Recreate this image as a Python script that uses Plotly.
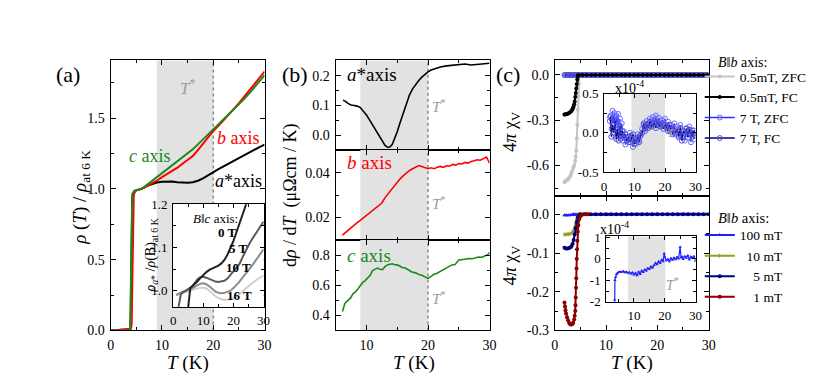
import plotly.graph_objects as go

W, H = 830, 391
SERIF = "Liberation Serif"
BAND = "#e2e2e2"
GREEN = "#1a8a1a"

# ---------------- (a) normalised resistivity ----------------
t_rho = [0, 1, 2, 3, 3.6, 3.8, 3.9, 4.0, 4.1, 4.2, 4.3, 4.4, 4.5, 4.6, 4.8, 5.0, 5.4, 6,
         7, 8, 9, 10, 11, 12, 13, 14, 15, 16, 17, 18, 19, 20, 21, 22, 23, 24, 25, 26, 27, 28, 29, 30]
rho_a = [0, 0, 0, 0, 0, 0.005, 0.1, 0.45, 0.8, 0.93, 0.965, 0.975, 0.98, 0.984, 0.988, 0.99, 0.995, 1.0,
         1.02, 1.035, 1.045, 1.05, 1.053, 1.052, 1.047, 1.043, 1.043, 1.048, 1.058, 1.075, 1.098, 1.12,
         1.14, 1.16, 1.18, 1.2, 1.22, 1.24, 1.26, 1.278, 1.296, 1.313]
rho_b = [0, 0, 0.006, 0.009, 0.01, 0.01, 0.012, 0.02, 0.05, 0.3, 0.65, 0.88, 0.95, 0.97, 0.985, 0.99, 0.995, 1.0,
         1.018, 1.036, 1.058, 1.083, 1.105, 1.127, 1.15, 1.178, 1.205, 1.233, 1.275, 1.32, 1.37, 1.41,
         1.447, 1.485, 1.525, 1.565, 1.607, 1.65, 1.695, 1.74, 1.785, 1.83]
rho_c = [0, 0, 0, 0, 0.002, 0.01, 0.25, 0.6, 0.88, 0.95, 0.97, 0.978, 0.983, 0.986, 0.99, 0.992, 0.996, 1.0,
         1.027, 1.055, 1.08, 1.108, 1.137, 1.165, 1.195, 1.222, 1.25, 1.28, 1.315, 1.35, 1.385, 1.42,
         1.455, 1.49, 1.525, 1.56, 1.597, 1.635, 1.675, 1.717, 1.76, 1.805]

# inset (a): rho_a* in field B || c
t_0t = [4.8, 5.0, 5.2, 5.4, 5.7, 6, 7, 8, 9, 10, 11, 12, 13, 14, 15, 16, 17, 18, 19, 20, 21, 22, 23, 24, 24.7]
r_0t = [0.95, 0.965, 0.985, 1.0, 1.006, 1.008, 1.014, 1.021, 1.029, 1.037, 1.043, 1.048, 1.051, 1.054, 1.058,
        1.063, 1.071, 1.083, 1.098, 1.115, 1.135, 1.157, 1.178, 1.197, 1.21]
t_5t = [1.5, 1.8, 2.1, 2.5, 3, 4, 5, 6, 7, 8, 9, 10, 11, 12, 13, 14, 15, 16, 17, 18, 19, 20, 21, 22, 23, 24,
        25, 26, 27, 28, 29, 30]
r_5t = [0.95, 0.965, 0.98, 0.99, 0.995, 0.999, 1.003, 1.008, 1.016, 1.026, 1.031, 1.032, 1.03, 1.027, 1.023,
        1.021, 1.02, 1.021, 1.023, 1.028, 1.036, 1.044, 1.052, 1.062, 1.077, 1.093, 1.105, 1.117, 1.128,
        1.14, 1.15, 1.16]
t_hi = [1, 2, 3, 4, 5, 6, 7, 8, 9, 10, 11, 12, 13, 14, 15, 16, 17, 18, 19, 20, 21, 22, 23, 24, 25, 26, 27,
        28, 29, 30]
r_10t = [0.99, 0.994, 0.997, 0.999, 1.001, 1.004, 1.008, 1.013, 1.016, 1.017, 1.015, 1.01, 1.004, 0.998,
         0.995, 0.994, 0.995, 0.997, 1.0, 1.006, 1.013, 1.021, 1.03, 1.038, 1.047, 1.056, 1.066, 1.076,
         1.086, 1.096]
r_16t = [0.99, 0.992, 0.994, 0.996, 0.998, 1.0, 1.003, 1.005, 1.007, 1.007, 1.005, 1.0, 0.993, 0.987, 0.983,
         0.98, 0.979, 0.979, 0.98, 0.983, 0.987, 0.992, 0.998, 1.003, 1.01, 1.016, 1.022, 1.027, 1.031, 1.035]

# ---------------- (b) d rho / dT ----------------
t_da = [6.2, 6.6, 7.0, 7.5, 8.0, 8.5, 9.0, 9.5, 10.0, 10.5, 11.0, 11.5, 12.0, 12.5, 13.0, 13.4, 13.8, 14.2,
        14.6, 15.0, 15.5, 16.0, 16.5, 17.0, 17.5, 18.0, 18.5, 19.0, 19.5, 20.0, 20.5, 21, 22, 23, 24, 25,
        26, 27, 28, 29, 30]
d_a = [0.118, 0.114, 0.107, 0.102, 0.1, 0.098, 0.093, 0.082, 0.068, 0.052, 0.035, 0.017, 0.0, -0.018, -0.033,
       -0.04, -0.039, -0.03, -0.012, 0.012, 0.045, 0.078, 0.108, 0.136, 0.156, 0.171, 0.184, 0.195, 0.205,
       0.213, 0.219, 0.223, 0.229, 0.233, 0.235, 0.237, 0.239, 0.236, 0.238, 0.241, 0.242]
t_db = [6.1, 6.5, 7, 7.5, 8, 8.5, 9, 9.5, 10, 10.5, 11, 11.5, 12, 12.5, 13, 13.5, 14, 14.5, 15, 15.5, 16,
        16.5, 17, 17.5, 18, 18.5, 19, 19.5, 20, 20.5, 21, 21.5, 22, 22.5, 23, 23.5, 24, 24.5, 25, 25.5, 26,
        26.5, 27, 27.5, 28, 28.5, 29, 29.5, 30]
d_b = [0.0122, 0.0132, 0.0143, 0.0155, 0.0167, 0.0178, 0.0188, 0.0199, 0.021, 0.0218, 0.0229, 0.024, 0.0252,
       0.0265, 0.0288, 0.0305, 0.0322, 0.0341, 0.036, 0.0374, 0.0387, 0.04, 0.041, 0.0418, 0.0426, 0.0432,
       0.0428, 0.0424, 0.0418, 0.0422, 0.0418, 0.0424, 0.0428, 0.0424, 0.0431, 0.0429, 0.0437, 0.0434,
       0.0441, 0.0439, 0.0446, 0.0443, 0.045, 0.0453, 0.0458, 0.0456, 0.0463, 0.047, 0.0443]
t_dc = [6.1, 6.5, 7.0, 7.4, 7.8, 8.2, 8.6, 9.0, 9.4, 9.8, 10.2, 10.6, 11.0, 11.4, 11.8, 12.2, 12.6, 13.0,
        13.4, 13.8, 14.2, 14.6, 15.0, 15.4, 15.8, 16.3, 16.8, 17.4, 18.0, 18.5, 19.0, 19.5, 20.0, 20.5,
        20.9, 21.4, 21.8, 22.3, 22.8, 23.3, 23.9, 24.4, 25.0, 25.5, 26.0, 26.6, 27.2, 27.7, 28.2, 28.8,
        29.3, 29.7, 30.0]
d_c = [0.426, 0.48, 0.5, 0.515, 0.544, 0.556, 0.576, 0.6, 0.62, 0.632, 0.652, 0.668, 0.699, 0.71, 0.716,
       0.708, 0.705, 0.725, 0.737, 0.742, 0.744, 0.738, 0.737, 0.73, 0.72, 0.716, 0.705, 0.69, 0.684, 0.673,
       0.668, 0.656, 0.647, 0.66, 0.673, 0.68, 0.69, 0.705, 0.712, 0.724, 0.737, 0.74, 0.77, 0.772, 0.776,
       0.78, 0.778, 0.786, 0.79, 0.788, 0.797, 0.805, 0.82]

# ---------------- (c) susceptibility, upper: 0.5 mT and 7 T ----------------
t_zfc05 = [1.9, 2.0, 2.2, 2.4, 2.6, 2.8, 3.0, 3.2, 3.4, 3.6, 3.8, 4.0, 4.1, 4.2, 4.3, 4.4, 4.5, 4.6, 4.7,
           4.8, 5.0, 5.2]
chi_zfc05 = [-0.71, -0.705, -0.7, -0.695, -0.69, -0.68, -0.67, -0.655, -0.635, -0.615, -0.6, -0.57, -0.54,
             -0.5, -0.42, -0.33, -0.23, -0.14, -0.06, -0.01, 0, 0]
t_fc05 = [1.9, 2.0, 2.2, 2.4, 2.6, 2.8, 3.0, 3.2, 3.4, 3.5, 3.6, 3.7, 3.8, 3.9, 4.0, 4.1, 4.2, 4.3, 4.4,
          4.5, 4.6, 5.4, 6.2, 7.1, 7.9, 8.8, 9.6, 10.4, 11.3, 12.1, 13.0, 13.8, 14.6, 15.5, 16.3, 17.2, 18.0,
          18.8, 19.7, 20.5, 21.4, 22.2, 23.0, 23.9, 24.7, 25.6, 26.4, 27.2, 28.1, 28.9, 29.8]
chi_fc05 = [-0.262, -0.262, -0.26, -0.258, -0.255, -0.252, -0.247, -0.24, -0.23, -0.223, -0.215, -0.205,
            -0.194, -0.175, -0.145, -0.12, -0.09, -0.06, -0.03, -0.008, 0, 0, 0, 0, 0, 0, 0, 0, 0, 0, 0, 0, 0,
            0, 0, 0, 0, 0, 0, 0, 0, 0, 0, 0, 0, 0, 0, 0, 0, 0, 0]
# 7 T data in units of 1e-4
t_zfc7 = [1.9, 2.2, 2.5, 2.8, 3.1, 3.4, 3.7, 4.0, 4.3, 4.6, 4.9, 5.2, 5.5, 5.8, 6.1, 6.5, 7.0, 7.5, 8.0, 8.5,
          9.0, 9.5, 10.0, 10.5, 11.0, 11.5, 12.0, 12.5, 13.0, 13.5, 14.0, 14.5, 15.0, 15.5, 16.0, 16.5, 17.0,
          17.5, 18.0, 18.5, 19.0, 19.5, 20.0, 20.5, 21.0, 21.5, 22.0, 22.5, 23.0, 23.5, 24.0, 24.5, 25.0,
          25.5, 26.0, 26.5, 27.0, 27.5, 28.0, 28.5, 29.0, 29.5]
chi_zfc7 = [0.15, 0.22, 0.05, 0.28, 0.12, 0.25, -0.05, 0.22, 0.1, 0.24, 0.02, 0.18, -0.08, 0.12, -0.1, 0.02,
            -0.15, -0.06, -0.12, 0.0, -0.04, -0.18, -0.08, -0.14, -0.02, -0.1, -0.04, 0.05, 0.1, 0.02, 0.15,
            0.08, 0.18, 0.1, 0.2, 0.12, 0.22, 0.1, 0.19, 0.08, 0.16, 0.12, 0.18, 0.06, 0.14, 0.03, 0.1, 0.0,
            0.12, -0.02, 0.08, -0.06, 0.1, -0.05, 0.02, -0.1, 0.06, -0.02, 0.08, -0.12, 0.03, -0.08]
t_fc7 = [2.0, 2.4, 2.8, 3.2, 3.6, 4.0, 4.4, 4.8, 5.2, 5.6, 6.0, 6.5, 7.0, 7.5, 8.0, 8.5, 9.0, 9.5, 10.0,
         10.5, 11.0, 11.5, 12.0, 12.5, 13.0, 13.5, 14.0, 14.5, 15.0, 15.5, 16.0, 16.5, 17.0, 17.5, 18.0,
         18.5, 19.0, 19.5, 20.0, 20.5, 21.0, 21.5, 22.0, 22.5, 23.0, 23.5, 24.0, 24.5, 25.0, 25.5, 26.0,
         26.5, 27.0, 27.5, 28.0, 28.5, 29.0, 29.5, 30.0]
chi_fc7 = [0.2, -0.05, 0.1, 0.0, 0.15, -0.08, 0.05, -0.1, 0.08, -0.03, 0.02, -0.06, -0.02, -0.1, -0.05,
           -0.12, -0.08, -0.02, -0.14, -0.1, -0.06, -0.12, -0.03, 0.0, 0.12, 0.05, 0.1, 0.06, 0.14, 0.08, 0.1,
           0.12, 0.06, 0.14, 0.1, 0.08, 0.12, 0.05, 0.1, 0.08, 0.02, 0.1, 0.04, -0.02, 0.06, 0.0, 0.04, -0.04,
           0.06, -0.1, 0.02, 0.0, 0.05, -0.06, 0.04, -0.02, -0.05, 0.03, -0.04]

# ---------------- (c) susceptibility, lower: low fields ----------------
# 100 mT in units of 1e-4
t_100 = [1.9, 2.3, 2.7, 3.1, 3.4, 3.6, 3.7, 3.8, 4.0, 4.3, 4.6, 5.0, 5.5, 6.0, 6.5, 7.0, 7.5, 8.0, 8.5, 9.0,
         9.5, 10.0, 10.5, 11.0, 11.5, 12.0, 12.5, 13.0, 13.5, 14.0, 14.5, 15.0, 15.5, 16.0, 16.5, 17.0, 17.5,
         18.0, 18.5, 19.0, 19.5, 19.8, 20.0, 20.5, 21.0, 21.5, 22.0, 22.5, 23.0, 23.5, 24.0, 24.5, 25.0,
         25.3, 25.6, 26.0, 26.5, 27.0, 27.5, 28.0, 28.5, 29.0, 29.5, 30.0]
chi_100 = [-25, -24, -22, -16, -8, -3, -1.9, -1.0, -0.85, -0.72, -0.66, -0.62, -0.6, -0.62, -0.58, -0.64,
           -0.6, -0.66, -0.62, -0.7, -0.64, -0.74, -0.66, -0.78, -0.6, -0.72, -0.55, -0.62, -0.5, -0.56,
           -0.44, -0.48, -0.36, -0.42, -0.3, -0.2, -0.26, -0.12, -0.2, -0.05, -0.12, 0.25, 0.1, -0.08, -0.02,
           -0.12, 0.02, -0.06, 0.05, -0.03, 0.08, 0.0, 0.55, 0.05, 0.1, -0.02, 0.12, 0.04, 0.15, -0.05, 0.1,
           0.02, 0.12, -0.1]
t_10 = [1.9, 2.2, 2.5, 2.8, 3.1, 3.4, 3.6, 3.8, 4.0, 4.2, 4.4, 4.6, 4.8, 5.0]
chi_10 = [-0.052, -0.052, -0.051, -0.051, -0.05, -0.048, -0.044, -0.036, -0.026, -0.015, -0.007, -0.002, 0, 0]
t_5 = [1.9, 2.2, 2.5, 2.8, 3.1, 3.3, 3.5, 3.7, 3.9, 4.1, 4.3, 4.5, 4.7, 5.0, 6, 7, 8, 9, 10, 11, 12, 13, 14,
       15, 16, 17, 18, 19, 20, 21, 22, 23, 24, 25, 26, 27, 28, 29, 30]
chi_5 = [-0.086, -0.088, -0.088, -0.087, -0.085, -0.082, -0.076, -0.066, -0.052, -0.036, -0.02, -0.008, -0.002,
         0, 0, 0, 0, 0, 0, 0, 0, 0, 0, 0, 0, 0, 0, 0, 0, 0, 0, 0, 0, 0, 0, 0, 0, 0, 0]
t_1 = [1.9, 2.0, 2.1, 2.2, 2.4, 2.6, 2.8, 3.0, 3.2, 3.4, 3.6, 3.8, 3.9, 4.0, 4.05, 4.1, 4.15, 4.2, 4.25, 4.3,
       4.35, 4.4, 4.5, 4.6, 4.8, 5.0, 5.3, 5.6, 6.0, 6.5]
chi_1 = [-0.228, -0.238, -0.248, -0.256, -0.266, -0.274, -0.28, -0.284, -0.285, -0.284, -0.28, -0.272, -0.262,
         -0.25, -0.235, -0.215, -0.19, -0.165, -0.14, -0.115, -0.09, -0.068, -0.045, -0.028, -0.012, -0.005,
         -0.001, 0, 0, 0]

for a, b in [(t_rho, rho_a), (t_rho, rho_b), (t_rho, rho_c), (t_0t, r_0t), (t_5t, r_5t), (t_hi, r_10t),
             (t_hi, r_16t), (t_da, d_a), (t_db, d_b), (t_dc, d_c), (t_zfc05, chi_zfc05), (t_fc05, chi_fc05),
             (t_zfc7, chi_zfc7), (t_fc7, chi_fc7), (t_100, chi_100), (t_10, chi_10), (t_5, chi_5), (t_1, chi_1)]:
    assert len(a) == len(b), (len(a), len(b))


def px(x):
    return x / W


def py(y):
    return 1 - y / H


def line(x, y, xa, ya, color, width=2, **kw):
    return go.Scatter(x=x, y=y, xaxis=xa, yaxis=ya, mode="lines", showlegend=False,
                      line=dict(color=color, width=width), **kw)


fig = go.Figure()

# (a)
fig.add_trace(line(t_rho, rho_a, "x", "y", "black"))
fig.add_trace(line(t_rho, rho_b, "x", "y", "red"))
fig.add_trace(line(t_rho, rho_c, "x", "y", GREEN))
fig.add_trace(line(t_hi, r_16t, "x2", "y2", "#d0d0d0"))
fig.add_trace(line(t_hi, r_10t, "x2", "y2", "#8c8c8c"))
fig.add_trace(line(t_5t, r_5t, "x2", "y2", "#5a5a5a"))
fig.add_trace(line(t_0t, r_0t, "x2", "y2", "#222222"))

# (b)
fig.add_trace(line(t_da, d_a, "x3", "y3", "black", 1.6))
fig.add_trace(line(t_db, d_b, "x4", "y4", "red", 1.6))
fig.add_trace(line(t_dc, d_c, "x5", "y5", GREEN, 1.6))

# (c) upper
e4 = 1e-4
fig.add_trace(go.Scatter(x=t_zfc05, y=chi_zfc05, xaxis="x6", yaxis="y6", mode="lines+markers",
                         name="0.5mT, ZFC", legend="legend", legendrank=1,
                         line=dict(color="#c4c4c4", width=2), marker=dict(size=4, color="#c4c4c4")))
fig.add_trace(go.Scatter(x=t_zfc7, y=[v * e4 for v in chi_zfc7], xaxis="x6", yaxis="y6", mode="lines+markers",
                         name="7 T, ZFC", legend="legend", legendrank=3,
                         line=dict(color="#3030ff", width=1.5),
                         marker=dict(size=5, symbol="circle-open", color="#6a6aff")))
fig.add_trace(go.Scatter(x=t_fc7, y=[v * e4 for v in chi_fc7], xaxis="x6", yaxis="y6", mode="lines+markers",
                         name="7 T, FC", legend="legend", legendrank=4,
                         line=dict(color="#000080", width=1.5),
                         marker=dict(size=5, symbol="circle-open", color="#5050d0")))
fig.add_trace(go.Scatter(x=t_fc05, y=chi_fc05, xaxis="x6", yaxis="y6", mode="lines+markers",
                         name="0.5mT, FC", legend="legend", legendrank=2,
                         line=dict(color="black", width=2), marker=dict(size=4, color="black")))
# inset upper
fig.add_trace(go.Scatter(x=t_zfc7, y=chi_zfc7, xaxis="x8", yaxis="y8", mode="lines+markers", showlegend=False,
                         line=dict(color="#3030ff", width=1.2),
                         marker=dict(size=5, symbol="circle-open", color="#6a6aff")))
fig.add_trace(go.Scatter(x=t_fc7, y=chi_fc7, xaxis="x8", yaxis="y8", mode="lines+markers", showlegend=False,
                         line=dict(color="#000080", width=1.2),
                         marker=dict(size=5, symbol="circle-open", color="#5050d0")))

# (c) lower
fig.add_trace(go.Scatter(x=t_100, y=[v * e4 for v in chi_100], xaxis="x7", yaxis="y7", mode="lines+markers",
                         name="100 mT", legend="legend2", legendrank=1,
                         line=dict(color="#2020ff", width=2), marker=dict(size=4, symbol="triangle-up", color="#2020ff")))
fig.add_trace(go.Scatter(x=t_10, y=chi_10, xaxis="x7", yaxis="y7", mode="lines+markers",
                         name="\u200710 mT", legend="legend2", legendrank=2,
                         line=dict(color="#9a9a20", width=2), marker=dict(size=4, symbol="triangle-right", color="#9a9a20")))
fig.add_trace(go.Scatter(x=t_5, y=chi_5, xaxis="x7", yaxis="y7", mode="lines+markers",
                         name="\u2007\u20075 mT", legend="legend2", legendrank=3,
                         line=dict(color="#000080", width=2), marker=dict(size=4, color="#000080")))
fig.add_trace(go.Scatter(x=t_1, y=chi_1, xaxis="x7", yaxis="y7", mode="lines+markers",
                         name="\u2007\u20071 mT", legend="legend2", legendrank=4,
                         line=dict(color="#8b0000", width=2), marker=dict(size=4, color="#8b0000")))
fig.add_trace(go.Scatter(x=t_100, y=chi_100, xaxis="x9", yaxis="y9", mode="lines+markers", showlegend=False,
                         line=dict(color="#2020ff", width=1.2), marker=dict(size=3, symbol="triangle-up", color="#2020ff")))


def axis(domain, rng, anchor, labels=True, size=14, dtick=None, minor=None, tl=5, **kw):
    d = dict(domain=domain, range=rng, anchor=anchor, showline=True, linecolor="black", linewidth=1,
             mirror="allticks", ticks="inside", ticklen=tl, tickcolor="black", showgrid=False,
             zeroline=False, showticklabels=labels, dtick=dtick, ticklabelstandoff=2,
             tickfont=dict(family=SERIF, size=size, color="black"))
    if minor:
        d["minor"] = dict(ticks="inside", ticklen=3, dtick=minor, tickcolor="black", showgrid=False)
    d.update(kw)
    return d


def neg(vals, fmt):
    return dict(tickmode="array", tickvals=vals, ticktext=[fmt.format(v).replace("\u2212", "-") for v in vals])


xa = [px(100), px(256)]
xb = [px(328), px(484)]
xc = [px(550), px(706)]
full = [py(328), py(47)]
legend_style = dict(xanchor="left", yanchor="top", bgcolor="rgba(0,0,0,0)",
                    font=dict(family=SERIF, size=13.5, color="black"), itemwidth=30, tracegroupgap=0)

fig.update_layout(
    width=W, height=H, margin=dict(l=0, r=0, t=0, b=0),
    paper_bgcolor="white", plot_bgcolor="white",
    font=dict(family=SERIF, color="black"),
    xaxis=axis(xa, [0, 30], "y", dtick=10, minor=5),
    yaxis=axis(full, [0, 1.91], "x", dtick=0.5, minor=0.25, tickformat=".1f"),
    xaxis2=axis([px(163.3), px(255)], [0, 30], "y2", size=13, dtick=10, minor=5, tl=4),
    yaxis2=axis([py(303.3), py(196.7)], [0.963, 1.2], "x2", size=13, dtick=0.1, minor=0.05, tl=4,
                tickformat=".1f"),
    xaxis3=axis(xb, [5, 30], "y3", labels=False, dtick=10, minor=5),
    yaxis3=axis([py(140), py(47)], [-0.048, 0.252], "x3", dtick=0.1, minor=0.05, tickformat=".1f"),
    xaxis4=axis(xb, [5, 30], "y4", labels=False, dtick=10, minor=5),
    yaxis4=axis([py(234), py(140)], [0.01, 0.0503], "x4", dtick=0.02, minor=0.01, tickformat=".2f"),
    xaxis5=axis(xb, [5, 30], "y5", dtick=10, minor=5),
    yaxis5=axis([py(328), py(234)], [0.3, 0.903], "x5", dtick=0.2, minor=0.1, tickformat=".1f"),
    xaxis6=axis(xc, [0, 30], "y6", labels=False, dtick=10, minor=5),
    yaxis6=axis([py(188), py(47)], [-0.80, 0.098], "x6", minor=0.15, **neg([-0.6, -0.3, 0.0], "{:.1f}")),
    xaxis7=axis(xc, [0, 30], "y7", dtick=10, minor=5),
    yaxis7=axis([py(328), py(188)], [-0.3, 0.048], "x7", minor=0.05,
                **neg([-0.3, -0.2, -0.1, 0.0], "{:.1f}")),
    xaxis8=axis([px(600), px(692.7)], [0, 30], "y8", size=13, dtick=10, minor=5, tl=4),
    yaxis8=axis([py(163.3), py(81.7)], [-0.5, 0.5], "x8", size=13, minor=0.25, tl=4,
                **neg([-0.5, 0.0, 0.5], "{:.1f}")),
    xaxis9=axis([px(602.3), px(692.7)], [1, 30], "y9", size=13, dtick=10, minor=5, tl=4),
    yaxis9=axis([py(298.3), py(230)], [-2, 1.05], "x9", size=13, minor=0.5, tl=4,
                **neg([-2, -1, 0, 1], "{:d}")),
    legend=dict(x=px(697), y=py(48), **legend_style),
    legend2=dict(x=px(697), y=py(213), **legend_style),
)

shapes = []
# shaded T* regions and dotted T* lines
shapes.append(dict(type="rect", xref="x", yref="y", x0=9, x1=20, y0=0, y1=1.91, fillcolor=BAND,
                   line=dict(width=0), layer="below"))
shapes.append(dict(type="line", xref="x", yref="y", x0=20, x1=20, y0=0, y1=1.91,
                   line=dict(color="#8a8a8a", width=1.5, dash="dot"), layer="below"))
shapes.append(dict(type="rect", xref="x2", yref="y2", x0=0, x1=30, y0=0.963, y1=1.2, fillcolor="white",
                   line=dict(width=0), layer="below"))
for n, (lo, hi) in zip([3, 4, 5], [(-0.048, 0.252), (0.01, 0.0503), (0.3, 0.903)]):
    shapes.append(dict(type="rect", xref=f"x{n}", yref=f"y{n}", x0=9, x1=20, y0=lo, y1=hi, fillcolor=BAND,
                       line=dict(width=0), layer="below"))
    shapes.append(dict(type="line", xref=f"x{n}", yref=f"y{n}", x0=20, x1=20, y0=lo, y1=hi,
                       line=dict(color="#8a8a8a", width=1.5, dash="dot"), layer="below"))
shapes.append(dict(type="rect", xref="x8", yref="y8", x0=9, x1=20, y0=-0.5, y1=0.5, fillcolor=BAND,
                   line=dict(width=0), layer="below"))
shapes.append(dict(type="rect", xref="x9", yref="y9", x0=8, x1=20.2, y0=-2, y1=1.05, fillcolor=BAND,
                   line=dict(width=0), layer="below"))
fig.update_layout(shapes=shapes)


def text(x, y, s, size=18, color="black", angle=0, anchor="center"):
    fig.add_annotation(x=px(x), y=py(y), xref="paper", yref="paper", text=s, showarrow=False,
                       textangle=angle, xanchor=anchor, yanchor="middle",
                       font=dict(family=SERIF, size=size, color=color))


TSTAR = "<i>T</i><sup>*</sup>"
text(57, 62, "(a)", 22)
text(287, 62, "(b)", 22)
text(503, 62, "(c)", 22)

text(70, 190, "<i>ρ</i> (<i>T</i>) / <i>ρ</i><sub>at 6 K</sub>", 19, angle=-90)
text(178, 362, "<i>T</i> (K)", 19)
text(283, 187, "d<i>ρ</i> / d<i>T</i>  (μΩcm / K)", 18, angle=-90)
text(407, 362, "<i>T</i> (K)", 19)
text(506, 121, "4<i>π</i> χ<sub>V</sub>", 18, angle=-90)
text(506, 260, "4<i>π</i> χ<sub>V</sub>", 18, angle=-90)
text(628, 362, "<i>T</i> (K)", 19)

text(178, 75, TSTAR, 17, "#9a9a9a")
text(140, 147, "<i>c</i> axis", 18, GREEN)
text(230, 128, "<i>b</i> axis", 18, "red")
text(230, 173, "<i>a</i>*axis", 18)

text(141, 250, "<i>ρ</i><sub><i>a</i>*</sub> /<i>ρ</i>(B)<sub>at 6 K</sub>", 14, angle=-90)
text(206, 212, "<i>B</i>‖<i>c</i> axis:", 13)
text(218, 226, "<b>0 T</b>", 13)
text(230, 243, "<b>5 T</b>", 13)
text(230, 263, "<b>10 T</b>", 13)
text(231, 292, "<b>16 T</b>", 13)

text(365, 62, "<i>a</i>*axis", 19)
text(362, 153, "<i>b</i> axis", 19, "red")
text(362, 250, "<i>c</i> axis", 19, GREEN)
text(433, 95, TSTAR, 15, "#9a9a9a")
text(433, 196, TSTAR, 15, "#9a9a9a")
text(433, 294, TSTAR, 15, "#9a9a9a")

text(626, 75, "x10<sup>-4</sup>", 14)
text(611, 222, "x10<sup>-4</sup>", 14)
text(670, 122, TSTAR, 13, "#9a9a9a")
text(669, 280, TSTAR, 14, "#9a9a9a")
text(713, 49, "<i>B</i>‖<i>b</i> axis:", 14, anchor="left")
text(713, 211, "<i>B</i>‖<i>b</i> axis:", 14.5, anchor="left")

fig.write_html("out.html")
